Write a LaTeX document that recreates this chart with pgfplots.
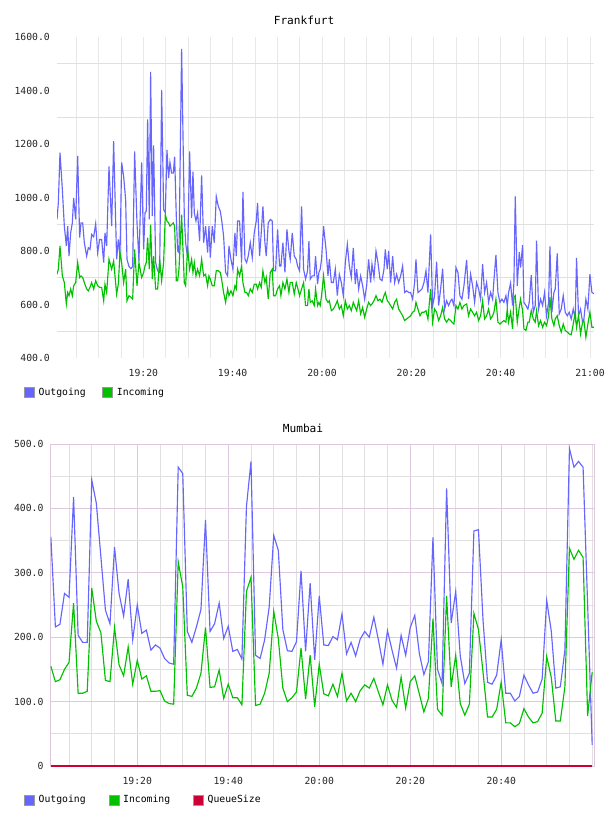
\documentclass[border=0pt]{standalone}
\usepackage{fontspec}
\setmainfont{DejaVu Sans Mono}
\usepackage{pgfplots}
\usepackage{pgfplotstable}
\pgfplotsset{compat=1.18}
\definecolor{outc}{RGB}{102,102,255}
\definecolor{inc}{RGB}{0,192,0}
\definecolor{qc}{RGB}{204,0,51}
\definecolor{gridg}{RGB}{224,224,224}
\definecolor{gridv}{RGB}{232,232,232}
\definecolor{thist}{RGB}{222,200,222}

\pgfplotstableread{
t out in
0.67 918 713
0.97 980 732
1.34 1168 819
1.87 1029 707
2.31 893 682
2.76 819 602
3.06 893 645
3.36 781 633
3.73 868 658
4.10 905 633
4.40 998 670
4.85 918 682
5.30 1156 757
5.74 850 701
6.04 905 707
6.42 905 701
6.79 831 682
7.31 781 658
7.68 812 651
8.06 806 664
8.43 862 682
8.88 853 658
9.33 902 689
9.77 794 670
10.22 843 664
10.67 843 664
11.12 757 614
11.41 868 676
11.79 819 645
12.31 1116 769
12.91 893 732
13.35 1211 763
14.02 769 639
14.40 843 676
14.77 781 794
15.14 1131 757
15.59 1079 682
16.04 992 732
16.34 769 614
16.79 742 633
17.23 734 627
17.61 742 620
18.05 1172 806
18.58 905 670
19.02 763 757
19.62 1131 701
20.07 806 720
20.37 943 744
20.66 949 757
20.96 1292 850
21.34 918 732
21.63 1470 899
22.01 930 695
22.30 1195 781
22.75 757 658
23.20 726 658
23.65 720 769
24.10 1401 689
24.54 955 757
24.92 943 936
25.29 1178 912
25.66 1073 905
25.96 1131 893
26.33 1091 899
26.71 1091 905
27.01 1153 893
27.38 930 689
27.68 800 689
27.98 794 732
28.57 1556 936
29.17 930 682
29.47 831 670
29.91 775 812
30.36 1172 732
30.81 924 769
31.11 1097 720
31.41 943 757
31.78 912 707
32.15 943 732
32.60 837 707
33.05 1083 769
33.50 831 707
33.94 893 713
34.39 794 670
34.69 893 707
34.99 775 695
35.44 893 670
35.88 831 670
36.33 1004 726
36.78 967 726
37.22 949 720
37.52 918 695
37.97 856 645
38.42 720 608
38.87 707 658
39.17 819 633
39.61 769 651
40.06 732 633
40.51 868 670
40.81 781 658
41.10 912 732
41.55 912 707
42.00 757 744
42.30 1021 682
42.75 769 645
43.12 757 645
43.49 781 633
43.94 831 658
44.39 775 645
44.83 868 676
45.28 912 676
45.58 980 658
46.03 781 682
46.40 868 664
46.77 967 726
47.22 831 682
47.52 781 701
47.97 905 620
48.42 918 720
48.86 912 732
49.16 726 633
49.61 726 633
50.06 881 658
50.50 744 670
50.80 744 633
51.25 831 682
51.70 720 658
52.15 881 695
52.59 800 645
52.89 769 682
53.34 868 682
53.79 781 639
54.23 769 682
54.53 744 664
54.98 726 633
55.43 967 658
55.88 732 682
56.32 695 596
56.77 726 596
57.07 837 658
57.37 695 608
57.81 707 614
58.26 707 596
58.56 781 658
59.01 676 596
59.31 720 608
59.60 732 596
59.90 769 633
60.35 893 707
60.90 806 620
61.34 707 608
61.64 769 614
62.09 682 577
62.54 682 583
62.98 732 596
63.43 633 614
63.88 713 583
64.33 682 596
64.77 633 558
65.22 757 614
65.67 825 583
66.12 744 596
66.56 701 577
67.01 812 608
67.46 676 589
67.76 732 577
68.21 658 614
68.65 707 565
69.10 670 589
69.55 620 552
70.00 670 583
70.44 769 608
70.89 682 596
71.19 751 602
71.64 701 614
72.09 800 633
72.53 757 614
72.98 695 620
73.43 689 608
73.88 732 633
74.17 806 645
74.62 732 614
74.92 800 608
75.37 682 596
75.82 781 583
76.26 682 608
76.71 713 620
77.16 682 583
77.61 707 571
78.05 744 558
78.50 645 540
78.95 651 546
79.40 645 552
79.84 645 558
80.29 620 571
80.74 682 577
81.04 769 608
81.48 645 583
81.93 651 558
82.38 658 571
82.83 682 571
83.28 726 577
83.72 645 546
84.32 862 658
84.77 596 534
85.21 633 583
85.66 760 571
86.11 596 540
86.56 658 558
87.01 734 589
87.45 583 546
87.90 614 534
88.35 596 546
88.80 614 540
89.09 620 534
89.54 596 527
89.99 738 596
90.44 720 583
90.88 633 608
91.33 620 583
91.78 670 596
92.38 767 602
92.82 620 558
93.27 713 583
93.72 670 571
94.17 608 558
94.61 682 571
95.06 658 540
95.51 620 558
95.96 751 614
96.40 645 546
96.85 682 558
97.30 608 583
97.75 645 546
98.20 620 558
98.49 689 571
98.94 785 620
99.39 645 534
99.84 608 527
100.28 620 534
100.73 608 540
101.18 633 534
101.48 596 583
101.78 645 534
102.22 680 571
102.67 596 509
102.97 682 627
103.27 1004 633
103.72 670 534
104.16 796 589
104.46 738 620
104.91 822 577
105.21 608 509
105.66 596 503
106.10 583 534
106.40 608 534
106.85 710 577
107.30 571 546
107.74 596 534
108.04 839 577
108.49 583 521
108.94 620 540
109.39 596 515
109.83 645 534
110.28 558 521
110.73 608 558
111.03 817 627
111.47 571 546
111.92 645 521
112.22 658 546
112.67 791 558
113.12 565 521
113.56 583 497
114.01 633 527
114.46 571 503
114.91 558 497
115.35 571 490
115.80 546 487
116.25 583 527
116.70 546 571
116.99 774 515
117.44 558 558
117.89 583 490
118.34 534 534
118.64 546 540
119.08 620 478
119.53 583 527
119.98 713 571
120.43 645 515
120.87 641 515
}\frank

\pgfplotstableread{
t out in q
1 356 155 0
2 216 131 0
3 220 134 0
4 268 150 0
5 262 161 0
6 418 253 0
7 203 113 0
8 192 113 0
9 192 116 0
10 444 276 0
11 408 225 0
12 325 207 0
13 242 133 0
14 221 131 0
15 340 215 0
16 268 157 0
17 233 140 0
18 290 185 0
19 196 127 0
20 250 164 0
21 206 135 0
22 211 140 0
23 180 116 0
24 188 116 0
25 183 117 0
26 167 101 0
27 160 97 0
28 158 96 0
29 464 317 0
30 454 278 0
31 209 110 0
32 192 108 0
33 216 121 0
34 243 144 0
35 382 215 0
36 209 122 0
37 221 123 0
38 253 149 0
39 198 105 0
40 217 127 0
41 178 106 0
42 181 106 0
43 166 95 0
44 403 271 0
45 473 293 0
46 172 94 0
47 167 96 0
48 196 113 0
49 247 144 0
50 358 240 0
51 335 198 0
52 212 121 0
53 179 100 0
54 178 106 0
55 193 115 0
56 303 183 0
57 178 104 0
58 284 172 0
59 165 92 0
60 264 158 0
61 188 112 0
62 187 109 0
63 201 127 0
64 196 108 0
65 236 144 0
66 174 101 0
67 192 113 0
68 171 100 0
69 197 117 0
70 209 126 0
71 200 121 0
72 231 136 0
73 196 115 0
74 158 95 0
75 210 126 0
76 180 102 0
77 152 91 0
78 203 138 0
79 172 90 0
80 215 131 0
81 234 140 0
82 175 112 0
83 142 84 0
84 162 105 0
85 355 229 0
86 150 88 0
87 128 79 0
88 431 264 0
89 222 123 0
90 271 172 0
91 171 97 0
92 128 79 0
93 144 96 0
94 365 237 0
95 367 212 0
96 227 146 0
97 130 76 0
98 127 76 0
99 141 88 0
100 196 130 0
101 113 67 0
102 113 67 0
103 101 61 0
104 108 66 0
105 141 89 0
106 126 76 0
107 113 67 0
108 115 69 0
109 135 82 0
110 257 170 0
111 210 138 0
112 121 70 0
113 123 70 0
114 180 123 0
115 493 338 0
116 464 321 0
117 473 335 0
118 464 324 0
119 250 78 0
120 33 146 0
}\mumbai

\begin{document}
\begin{tikzpicture}
\useasboundingbox (0,0) rectangle (608bp,-816bp);
\pgfplotsset{
  common/.style={
    scale only axis,
    major tick length=0pt, minor tick length=0pt,
    tick label style={font=\fontsize{9.8}{11}\selectfont, text=black!85},
    yticklabel style={anchor=east, inner sep=0pt, xshift=-7bp},
    xticklabel style={anchor=center, inner sep=0pt, yshift=-15bp},
    title style={anchor=center, yshift=-6pt, font=\fontsize{11.2}{13}\selectfont},
    legend columns=-1,
    legend style={draw=none, fill=none, inner sep=0pt, anchor=west,
      font=\fontsize{9.8}{11}\selectfont,
      /tikz/every odd column/.append style={column sep=1.7bp}},
    legend image code/.code={\draw[#1] (0bp,-5bp) rectangle (10bp,5bp);},
    legend cell align=left,
  }
}
\begin{axis}[common,
  at={(57bp,-358bp)}, anchor=south west,
  width=537bp, height=321bp,
  xmin=0.67, xmax=120.9, ymin=400, ymax=1600,
  axis line style={draw=none},
  xtick={20,40,60,80,100,120},
  xticklabels={19:20,19:40,20:00,20:20,20:40,21:00},
  minor xtick={5,10,...,120},
  ytick={400,600,...,1600},
  yticklabels={400.0,600.0,800.0,1000.0,1200.0,1400.0,1600.0},
  minor ytick={500,700,...,1500},
  xmajorgrids, xminorgrids, yminorgrids,
  major grid style={gridv, line width=0.8bp},
  minor grid style={gridg, line width=0.8bp},
  minor x grid style={gridv, line width=0.8bp},
  title=Frankfurt,
  title style={at={(axis description cs:0.46,1.053)}},
  legend style={at={(axis description cs:-0.0615,-0.1069)},
    /tikz/every even column/.append style={column sep=14.7bp}},
]
\addlegendimage{fill=outc, draw=gray!80, line width=0.8bp}
\addlegendentry{Outgoing}
\addlegendimage{fill=inc, draw=gray!80, line width=0.8bp}
\addlegendentry{Incoming}
\addplot[outc, line width=1.15bp, forget plot] table[x=t, y=out] {\frank};
\addplot[inc, line width=1.15bp, forget plot] table[x=t, y=in] {\frank};
\end{axis}

\begin{axis}[common,
  at={(50.7bp,-766bp)}, anchor=south west,
  width=543.3bp, height=322bp,
  xmin=0.97, xmax=120.4, ymin=0, ymax=500,
  axis line style={draw=thist, line width=1bp},
  xtick={20,40,60,80,100},
  xticklabels={19:20,19:40,20:00,20:20,20:40},
  minor xtick={5,10,15,25,30,35,45,50,55,65,70,75,85,90,95,105,110,115,120},
  ytick={0,100,...,500},
  yticklabels={0,100.0,200.0,300.0,400.0,500.0},
  minor ytick={50,150,...,450},
  xmajorgrids, xminorgrids, ymajorgrids, yminorgrids,
  major grid style={thist, line width=0.8bp},
  minor grid style={gridg, line width=0.8bp},
  title=Mumbai,
  title style={at={(axis description cs:0.4644,1.0497)}},
  legend style={at={(axis description cs:-0.0491,-0.1056)},
    /tikz/every even column/.append style={column sep=21bp}},
]
\addlegendimage{fill=outc, draw=gray!80, line width=0.8bp}
\addlegendentry{Outgoing}
\addlegendimage{fill=inc, draw=gray!80, line width=0.8bp}
\addlegendentry{Incoming}
\addlegendimage{fill=qc, draw=gray!80, line width=0.8bp}
\addlegendentry{QueueSize}
\addplot[outc, line width=1.15bp, forget plot] table[x=t, y=out] {\mumbai};
\addplot[inc, line width=1.15bp, forget plot] table[x=t, y=in] {\mumbai};
\addplot[qc, line width=1.3bp, forget plot] table[x=t, y=q] {\mumbai};
\end{axis}
\end{tikzpicture}
\end{document}
